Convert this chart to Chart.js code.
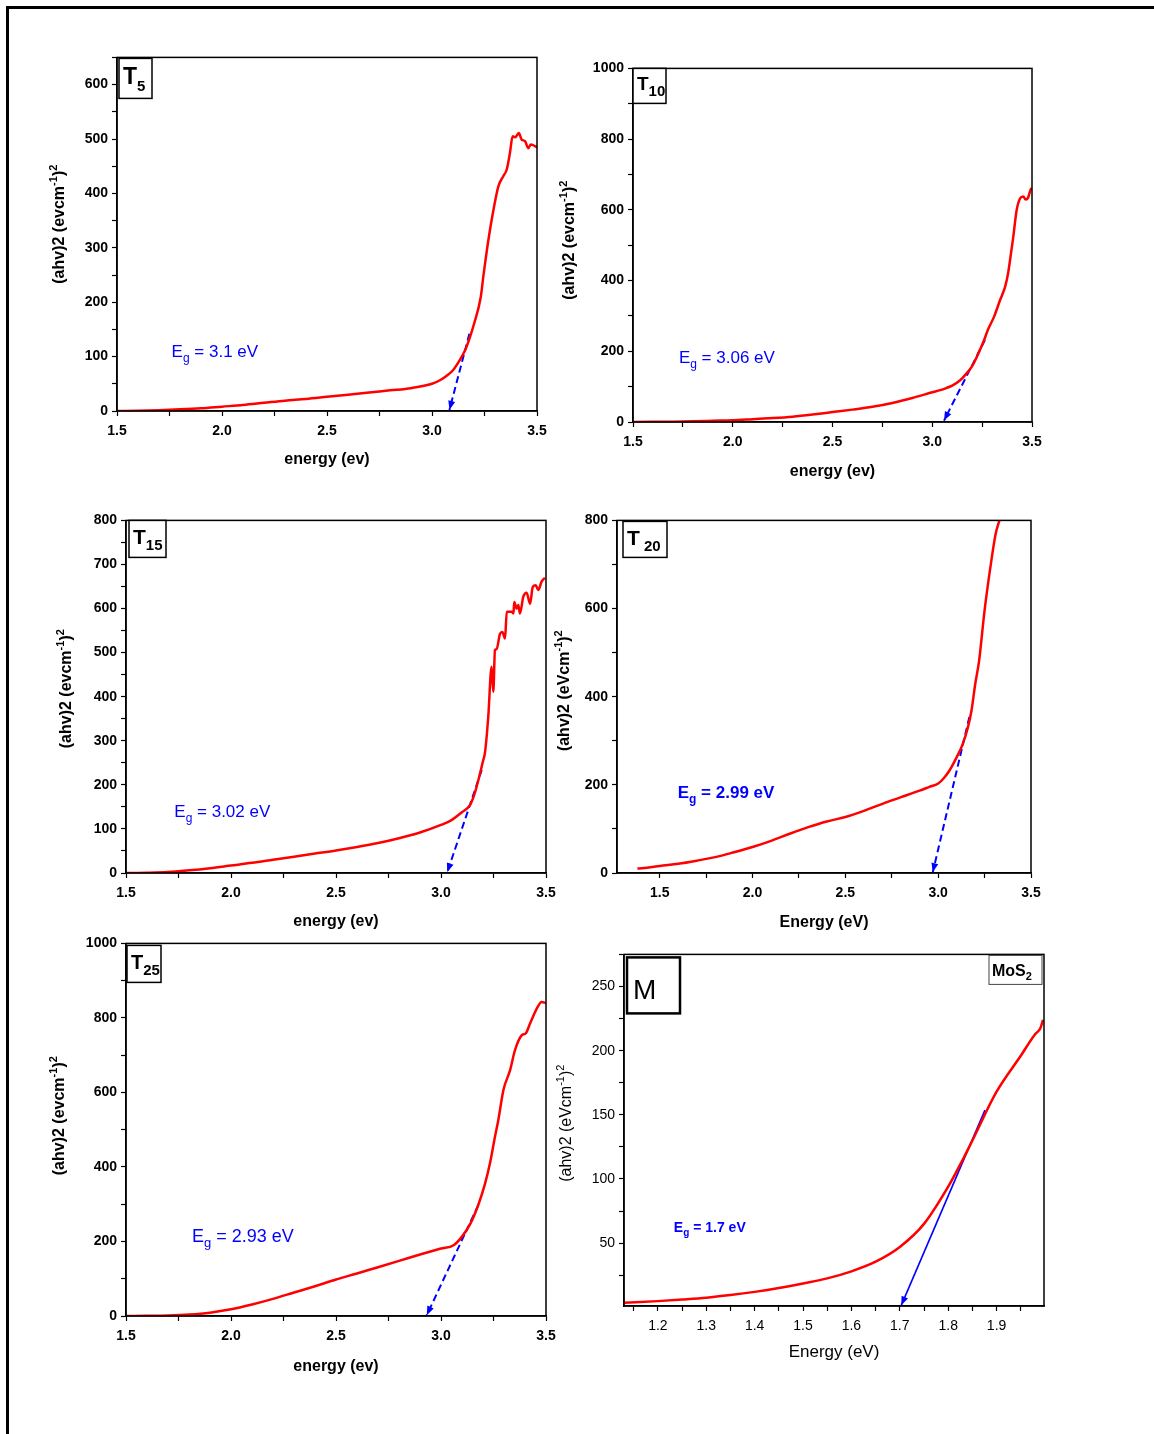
<!DOCTYPE html>
<html>
<head>
<meta charset="utf-8">
<title>Tauc plots</title>
<script src="https://cdn.jsdelivr.net/npm/chart.js@4.4.1/dist/chart.umd.min.js"></script>
<style>
  body { margin: 0; background: #fff; }
  #page { position: relative; width: 1154px; height: 1434px; overflow: hidden; background: #fff; }
  #frame { position: absolute; left: 6px; top: 6px; width: 1170px; height: 1450px;
           border-top: 3px solid #000; border-left: 3px solid #000; }
  canvas { position: absolute; }
</style>
</head>
<body>
<div id="page">
  <div id="frame"></div>
  <canvas id="c1"></canvas>
  <canvas id="c2"></canvas>
  <canvas id="c3"></canvas>
  <canvas id="c4"></canvas>
  <canvas id="c5"></canvas>
  <canvas id="c6"></canvas>
</div>
<script>
// ---- data ----
// T5
const t5Energy = [1.5,1.6,1.7,1.8,1.9,2.0,2.1,2.2,2.3,2.4,2.5,2.6,2.7,2.8,2.9,3.0,3.04,3.07,3.1,3.13,3.157,3.18,3.2,3.232,3.244,3.268,3.289,3.316,3.34,3.356,3.371,3.384,3.395,3.405,3.413,3.427,3.443,3.459,3.47,3.49,3.5];
const t5Value  = [0,0.5,1.5,3,5,8,11,15,19,22,26,30,34,38,42,50,57,65,75,92,111,135,160,209,246,313,362,413,432,444,474,505,503,507,511,499,496,483,490,487,485];
const t5TangentE = [3.178, 3.083];
const t5TangentV = [142, 2];

// T10
const t10Energy = [1.5,1.6,1.7,1.8,1.9,2.0,2.1,2.2,2.3,2.4,2.5,2.6,2.7,2.8,2.9,3.0,3.04,3.07,3.1,3.14,3.17,3.2,3.22,3.24,3.26,3.28,3.31,3.34,3.365,3.38,3.39,3.406,3.423,3.44,3.456,3.468,3.48,3.493,3.5];
const t10Value  = [0,0.5,1,2,3.5,5,8,11,15,21,28,35,43,54,68,84,90,96,103,118,136,158,180,205,232,262,298,345,382,420,458,523,599,632,638,629,634,657,662];
const t10TangentE = [3.264, 3.059];
const t10TangentV = [232, 4];

// T15
const t15Energy = [1.5,1.6,1.7,1.8,1.9,2.0,2.1,2.2,2.3,2.4,2.5,2.6,2.7,2.8,2.9,3.0,3.05,3.1,3.138,3.16,3.186,3.199,3.21,3.225,3.241,3.249,3.257,3.265,3.281,3.292,3.305,3.313,3.337,3.345,3.349,3.36,3.368,3.376,3.392,3.408,3.424,3.437,3.451,3.463,3.479,3.495];
const t15Value  = [0,0.5,2,6,11,17,23,30,37,44,51,59,68,79,92,109,120,138,154,180,226,252,275,354,468,411,506,508,543,547,532,593,593,589,615,600,608,589,627,636,611,649,653,642,661,670];
const t15TangentE = [3.194, 3.03];
const t15TangentV = [234, 2];

// T20
const t20Energy = [1.38,1.45,1.5,1.6,1.7,1.8,1.9,2.0,2.1,2.2,2.3,2.4,2.5,2.6,2.7,2.8,2.9,2.95,3.0,3.03,3.06,3.1,3.13,3.16,3.18,3.2,3.22,3.25,3.28,3.31,3.33];
const t20Value  = [10,13,16,21,28,36,47,59,73,89,104,117,127,141,157,172,187,195,203,215,232,263,290,330,370,430,480,596,690,770,800];
const t20TangentE = [3.168, 2.971];
const t20TangentV = [354, 2];

// T25
const t25Energy = [1.5,1.6,1.7,1.8,1.9,2.0,2.1,2.2,2.3,2.4,2.5,2.6,2.7,2.8,2.9,3.0,3.06,3.1,3.14,3.18,3.21,3.233,3.257,3.273,3.297,3.329,3.352,3.384,3.404,3.424,3.456,3.479,3.5];
const t25Value  = [0,0.5,1.5,4,9,18,31,46,63,80,98,114,131,148,165,181,190,213,248,302,356,409,481,526,606,660,713,753,759,785,825,843,840];
const t25TangentE = [3.178, 2.932];
const t25TangentV = [298, 2];

// MoS2
const mosEnergy = [1.13,1.2,1.25,1.3,1.35,1.4,1.45,1.5,1.55,1.6,1.65,1.7,1.75,1.8,1.83,1.85,1.9,1.95,1.98,1.99,1.996];
const mosValue  = [3.5,4.8,6,7.4,9.5,12,15,18.6,22.5,28,35.5,47,65,94,115,130,168,196,213,217,224];
const mosTangentE = [1.876, 1.703];
const mosTangentV = [153.6, 1.5];

// axis ranges / steps: [min, max], [minor step, major step]
const energyRange = [1.5, 3.5];
const energySteps = [0.25, 0.5];
const t5YRange = [0, 650],   t5YSteps = [50, 100];
const t10YRange = [0, 1000], t10YSteps = [100, 200];
const t15YRange = [0, 800],  t15YSteps = [50, 100];
const t20XRange = [1.27, 3.5];
const t20YRange = [0, 800],  t20YSteps = [100, 200];
const t25YRange = [0, 1000], t25YSteps = [100, 200];
const mosXRange = [1.13, 1.998], mosXSteps = [0.05, 0.1];
const mosYRange = [1, 275],      mosYSteps = [25, 50];

const FONT = '"Liberation Sans", Arial, Helvetica, sans-serif';
const RED = '#ff0000';
const BLUE = '#0000ff';

// ---- text helpers ----
function seg(text, size, bold, shift) {
  return { text: text, size: size, bold: !!bold, shift: shift || 0 };
}
function fontOf(p) {
  return (p.bold ? 'bold ' : '') + p.size + 'px ' + FONT;
}
function drawRich(ctx, parts, x, y, align, mid) {
  let total = 0, maxSize = 0;
  parts.forEach(p => {
    ctx.font = fontOf(p);
    p.w = ctx.measureText(p.text).width;
    total += p.w;
    maxSize = Math.max(maxSize, p.size);
  });
  let cx = align === 'center' ? x - total / 2 : x;
  const base = mid ? y + maxSize * 0.36 : y;
  ctx.textBaseline = 'alphabetic';
  ctx.textAlign = 'left';
  parts.forEach(p => {
    ctx.font = fontOf(p);
    ctx.fillText(p.text, cx, base + p.shift);
    cx += p.w;
  });
}
function yTitleParts(unit, bold) {
  return [seg('(ahv)2 (' + unit, 16, bold), seg('-1', 11, bold, -7), seg(')', 16, bold), seg('2', 11, bold, -7)];
}
function egParts(value, size, bold) {
  return [seg('E', size, bold), seg('g', Math.round(size * 0.7), bold, Math.round(size * 0.3)), seg(' = ' + value + ' eV', size, bold)];
}

// ---- decoration plugin: frame, arrow head, tags, labels, axis titles ----
const panelDeco = {
  id: 'panelDeco',
  afterDraw(chart, args, opts) {
    const ctx = chart.ctx, a = chart.chartArea;
    const xs = chart.scales.x, ys = chart.scales.y;
    ctx.save();
    ctx.strokeStyle = '#000';
    ctx.lineWidth = 1.5;
    ctx.strokeRect(a.left, a.top, a.right - a.left, a.bottom - a.top);

    // arrow head at the lower end of the tangent
    const pts = chart.getDatasetMeta(1).data;
    if (pts.length > 1) {
      const p1 = pts[pts.length - 2], p2 = pts[pts.length - 1];
      const ang = Math.atan2(p2.y - p1.y, p2.x - p1.x);
      const L = 9, W = 3.5;
      ctx.fillStyle = BLUE;
      ctx.beginPath();
      ctx.moveTo(p2.x, p2.y);
      ctx.lineTo(p2.x - L * Math.cos(ang) + W * Math.sin(ang), p2.y - L * Math.sin(ang) - W * Math.cos(ang));
      ctx.lineTo(p2.x - L * Math.cos(ang) - W * Math.sin(ang), p2.y - L * Math.sin(ang) + W * Math.cos(ang));
      ctx.closePath();
      ctx.fill();
    }

    (opts.tags || []).forEach(tg => {
      const bx = a.left + tg.x, by = a.top + tg.y;
      ctx.fillStyle = '#fff';
      ctx.fillRect(bx, by, tg.w, tg.h);
      ctx.strokeStyle = tg.stroke || '#000';
      ctx.lineWidth = tg.lw || 1.5;
      ctx.strokeRect(bx, by, tg.w, tg.h);
      ctx.fillStyle = '#000';
      drawRich(ctx, tg.parts, bx + tg.tx, by + tg.ty, 'left', false);
    });

    if (opts.eg) {
      ctx.fillStyle = BLUE;
      drawRich(ctx, opts.eg.parts, xs.getPixelForValue(opts.eg.at[0]), ys.getPixelForValue(opts.eg.at[1]), 'left', false);
    }

    ctx.fillStyle = '#000';
    drawRich(ctx, opts.xTitle, (a.left + a.right) / 2, a.bottom + opts.xGap, 'center', true);

    ctx.translate(a.left - opts.yGap, (a.top + a.bottom) / 2 + opts.yShift);
    ctx.rotate(-Math.PI / 2);
    drawRich(ctx, opts.yTitle, 0, 0, 'center', true);
    ctx.restore();
  }
};

function tickCb(major, digits, maxLabel) {
  return function (v) {
    const r = v / major;
    if (maxLabel !== undefined && v > maxLabel) return '';
    return Math.abs(r - Math.round(r)) < 1e-6 ? v.toFixed(digits) : '';
  };
}

function axis(range, steps, digits, fit, bold, size, pad) {
  return {
    type: 'linear',
    min: range[0],
    max: range[1],
    afterFit: fit,
    ticks: {
      stepSize: steps[0],
      includeBounds: false,
      autoSkip: false,
      maxRotation: 0,
      padding: pad,
      color: '#000',
      font: { family: FONT, size: size, weight: bold ? 'bold' : 'normal' },
      callback: tickCb(steps[1], digits)
    },
    grid: { drawOnChartArea: false, drawTicks: true, tickLength: 5, tickColor: '#000', tickWidth: 1.2 },
    border: { color: '#000', width: 1.5 }
  };
}

function makePanel(id, box, p) {
  const PADL = 90, PADT = 12, PADR = 22, PADB = 70;
  const cv = document.getElementById(id);
  cv.width = (box.r - box.l) + PADL + PADR;
  cv.height = (box.b - box.t) + PADT + PADB;
  cv.style.left = (box.l - PADL) + 'px';
  cv.style.top = (box.t - PADT) + 'px';

  const curve = p.energy.map((e, i) => ({ x: e, y: p.value[i] }));
  const tangent = p.tanE.map((e, i) => ({ x: e, y: p.tanV[i] }));
  const bold = p.bold !== false;
  const tsize = p.tickSize || 14;

  return new Chart(cv, {
    type: 'line',
    data: {
      datasets: [
        { data: curve, borderColor: RED, borderWidth: 2.5, pointRadius: 0, fill: false, cubicInterpolationMode: 'monotone' },
        { data: tangent, borderColor: BLUE, borderWidth: p.dash.length ? 2 : 1.6, pointRadius: 0, fill: false, borderDash: p.dash }
      ]
    },
    options: {
      responsive: false,
      animation: false,
      layout: { padding: { left: 0, top: PADT, right: PADR, bottom: 0 } },
      plugins: {
        legend: { display: false },
        tooltip: { enabled: false },
        panelDeco: p.deco
      },
      scales: {
        x: axis(p.xRange, p.xSteps, 1, s => { s.height = PADB; }, bold, tsize, 7),
        y: axis(p.yRange, p.ySteps, 0, s => { s.width = PADL; }, bold, tsize, 4)
      }
    },
    plugins: [panelDeco]
  });
}

function tTag(sub, tSize, x, y, w, h, ty, subShift) {
  return { x: x, y: y, w: w, h: h, tx: 4, ty: ty, lw: 1.5,
           parts: [seg('T', tSize, true), seg(sub, 15, true, subShift)] };
}

makePanel('c1', { l: 117, t: 57, r: 537, b: 411 }, {
  energy: t5Energy, value: t5Value, tanE: t5TangentE, tanV: t5TangentV, dash: [7, 4],
  xRange: energyRange, xSteps: energySteps, yRange: t5YRange, ySteps: t5YSteps,
  deco: {
    tags: [tTag('5', 23, 2, 1, 33, 40, 26, 7)],
    eg: { parts: egParts('3.1', 17, false), at: [1.76, 100] },
    xTitle: [seg('energy (ev)', 16, true)], xGap: 47,
    yTitle: yTitleParts('evcm', true), yGap: 59, yShift: -10
  }
});

makePanel('c2', { l: 633, t: 68, r: 1032, b: 422 }, {
  energy: t10Energy, value: t10Value, tanE: t10TangentE, tanV: t10TangentV, dash: [7, 4],
  xRange: energyRange, xSteps: energySteps, yRange: t10YRange, ySteps: t10YSteps,
  deco: {
    tags: [tTag('10', 19, 0, 0, 33, 35, 22, 6)],
    eg: { parts: egParts('3.06', 17, false), at: [1.73, 167] },
    xTitle: [seg('energy (ev)', 16, true)], xGap: 48,
    yTitle: yTitleParts('evcm', true), yGap: 65, yShift: -5
  }
});

makePanel('c3', { l: 126, t: 520, r: 546, b: 873 }, {
  energy: t15Energy, value: t15Value, tanE: t15TangentE, tanV: t15TangentV, dash: [7, 4],
  xRange: energyRange, xSteps: energySteps, yRange: t15YRange, ySteps: t15YSteps,
  deco: {
    tags: [tTag('15', 21, 3, 0, 37, 37, 24, 6)],
    eg: { parts: egParts('3.02', 17, false), at: [1.73, 127] },
    xTitle: [seg('energy (ev)', 16, true)], xGap: 47,
    yTitle: yTitleParts('evcm', true), yGap: 61, yShift: -8
  }
});

makePanel('c4', { l: 617, t: 520, r: 1031, b: 873 }, {
  energy: t20Energy, value: t20Value, tanE: t20TangentE, tanV: t20TangentV, dash: [7, 4],
  xRange: t20XRange, xSteps: energySteps, yRange: t20YRange, ySteps: t20YSteps,
  deco: {
    tags: [tTag(' 20', 21, 6, 1, 44, 36, 24, 6)],
    eg: { parts: egParts('2.99', 17, true), at: [1.597, 170] },
    xTitle: [seg('Energy (eV)', 16, true)], xGap: 48,
    yTitle: yTitleParts('eVcm', true), yGap: 54, yShift: -6
  }
});

makePanel('c5', { l: 126, t: 943, r: 546, b: 1316 }, {
  energy: t25Energy, value: t25Value, tanE: t25TangentE, tanV: t25TangentV, dash: [7, 4],
  xRange: energyRange, xSteps: energySteps, yRange: t25YRange, ySteps: t25YSteps,
  deco: {
    tags: [tTag('25', 20, 1, 2, 34, 37, 24, 6)],
    eg: { parts: egParts('2.93', 18, false), at: [1.814, 198] },
    xTitle: [seg('energy (ev)', 16, true)], xGap: 49,
    yTitle: yTitleParts('evcm', true), yGap: 68, yShift: -14
  }
});

makePanel('c6', { l: 624, t: 954, r: 1044, b: 1306 }, {
  energy: mosEnergy, value: mosValue, tanE: mosTangentE, tanV: mosTangentV, dash: [],
  xRange: mosXRange, xSteps: mosXSteps, yRange: mosYRange, ySteps: mosYSteps,
  bold: false, tickSize: 14,
  deco: {
    tags: [
      { x: 3, y: 3, w: 53, h: 56, tx: 6, ty: 42, lw: 2.5, parts: [seg('M', 28, false)] },
      { x: 365, y: 1, w: 53, h: 29, tx: 3, ty: 21, lw: 1, stroke: '#444',
        parts: [seg('MoS', 16, true), seg('2', 11, true, 4)] }
    ],
    eg: { parts: egParts('1.7', 14, true), at: [1.233, 58.6] },
    xTitle: [seg('Energy (eV)', 17, false)], xGap: 45,
    yTitle: yTitleParts('eVcm', false), yGap: 59, yShift: -7
  }
});
</script>
</body>
</html>
